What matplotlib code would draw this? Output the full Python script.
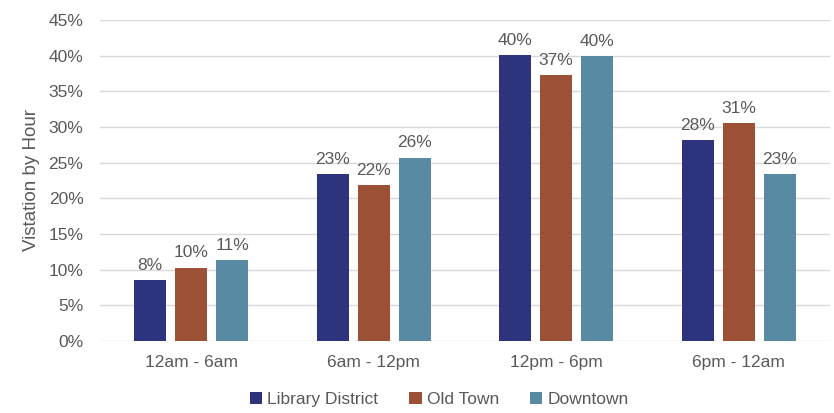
import numpy as np
import matplotlib
matplotlib.use('Agg')
import matplotlib.pyplot as plt
from matplotlib.ticker import PercentFormatter

# data
categories = ['12am - 6am', '6am - 12pm', '12pm - 6pm', '6pm - 12am']
series = ['Library District', 'Old Town', 'Downtown']
library = [8.5, 23.4, 40.1, 28.2]
old_town = [10.3, 21.9, 37.3, 30.6]
downtown = [11.3, 25.7, 39.9, 23.4]
colors = ['#2E337D', '#9C5136', '#588BA3']

plt.rcParams['font.family'] = ['Liberation Sans', 'DejaVu Sans']
txt = '#595959'

fig = plt.figure(figsize=(8.34, 4.13), dpi=100)
ax = fig.add_axes([0.12, 0.174, 0.875, 0.778])

x = np.arange(len(categories))
w = 0.175
step = 0.225
for i, (name, vals) in enumerate(zip(series, [library, old_town, downtown])):
    pos = x + (i - 1) * step
    ax.bar(pos, vals, width=w, color=colors[i], label=name, zorder=3)
    for p, v in zip(pos, vals):
        ax.text(p, v + 1.0, f'{round(v):d}%', ha='center', va='bottom',
                fontsize=12.5, color=txt)

ax.set_ylim(0, 45)
ax.set_xlim(-0.5, len(categories) - 0.5)
ax.set_yticks(np.arange(0, 46, 5))
ax.yaxis.set_major_formatter(PercentFormatter(decimals=0))
ax.set_xticks(x)
ax.set_xticklabels(categories)
ax.tick_params(axis='both', length=0, labelsize=12.5, colors=txt)
ax.tick_params(axis='x', pad=10)
ax.tick_params(axis='y', pad=12)
ax.grid(axis='y', color='#d9d9d9', linewidth=1, zorder=0)
for s in ax.spines.values():
    s.set_visible(False)
ax.set_ylabel('Vistation by Hour', fontsize=13.5, color=txt, labelpad=6)

ax.legend(loc='upper center', bbox_to_anchor=(0.465, -0.11), ncol=3, frameon=False,
          fontsize=12.5, labelcolor=txt, handlelength=0.7, handleheight=0.7,
          handletextpad=0.3, columnspacing=1.8)

fig.savefig('out.png', dpi=100)
